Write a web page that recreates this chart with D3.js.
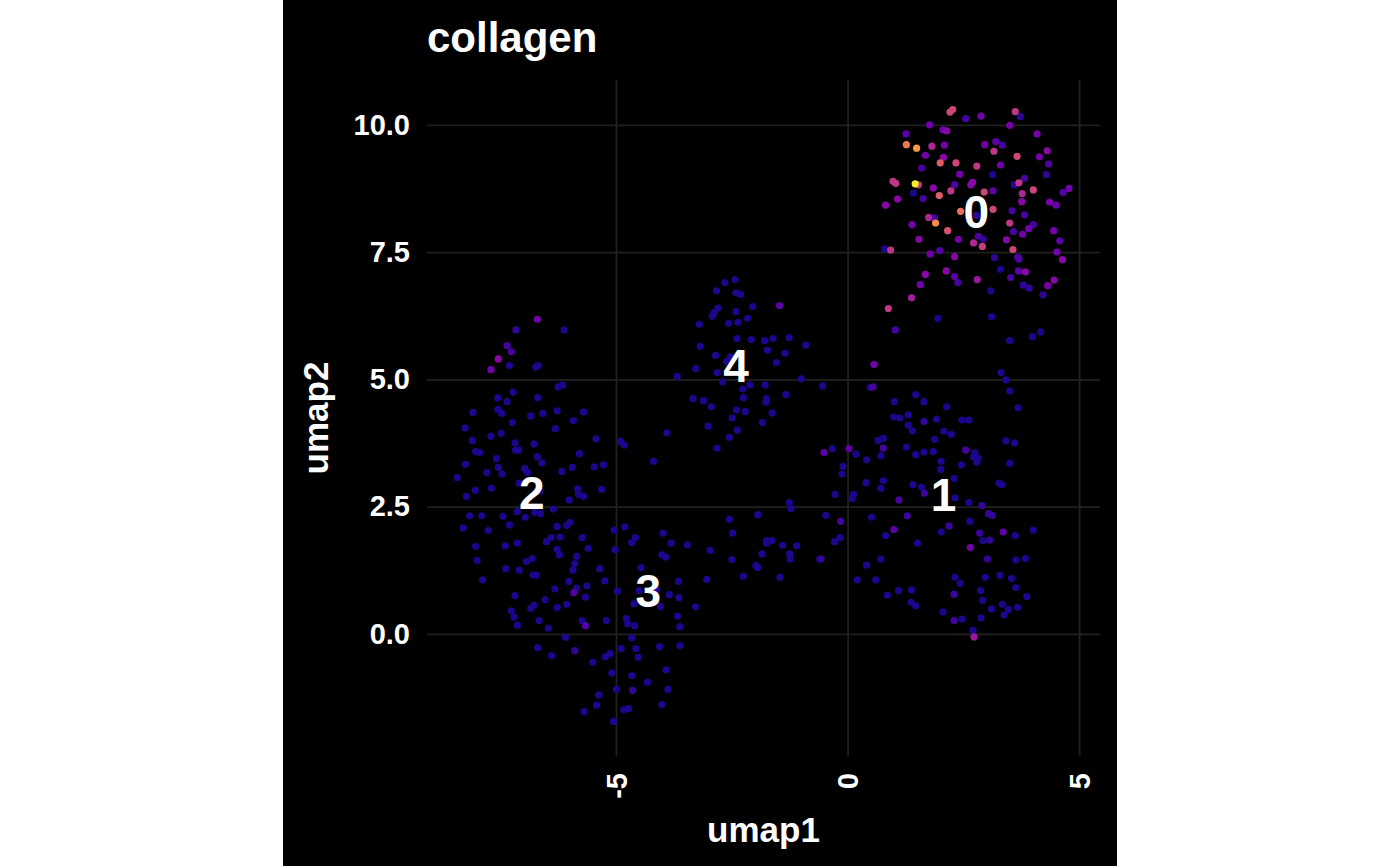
<!DOCTYPE html>
<html>
<head>
<meta charset="utf-8">
<script src="https://cdn.jsdelivr.net/npm/d3@7.9.0/dist/d3.min.js"></script>
<style>
  html, body { margin: 0; padding: 0; background: #fff; }
  svg { display: block; }
  text { font-family: "Liberation Sans", Arial, Helvetica, sans-serif; font-weight: bold; }
</style>
</head>
<body>
<svg id="chart" width="1400" height="866"></svg>
<script>
// umap1, umap2, collagen expression for each cell, grouped by cluster
const cluster0 = [
  [2.21,10.25,.55],[2.27,10.30,.55],[2.55,10.12,.2],[2.88,10.17,.3],[3.62,10.26,.5],[3.73,10.16,.15],
  [1.77,10.00,.3],[3.50,9.99,.3],[1.26,9.82,.25],[2.06,9.90,.3],[2.14,9.88,.35],[4.09,9.82,.3],
  [1.27,9.61,.7],[1.49,9.54,.78],[1.82,9.58,.45],[2.09,9.60,.3],[2.96,9.61,.3],[3.20,9.67,.25],
  [3.34,9.60,.2],[3.16,9.48,.5],[4.31,9.49,.35],[1.68,9.40,.3],[2.07,9.36,.35],[3.66,9.38,.55],
  [4.14,9.37,.3],[2.00,9.25,.62],[2.34,9.25,.55],[2.79,9.19,.5],[1.60,9.15,.2],[3.30,9.21,.3],
  [4.34,9.23,.22],[2.42,9.03,.3],[3.13,9.02,.12],[4.29,9.02,.15],[3.82,8.95,.2],[0.98,8.89,.5],
  [1.04,8.85,.5],[1.46,8.84,.98],[1.53,8.82,.5],[1.85,8.76,.35],[2.31,8.82,.22],[2.66,8.82,.35],
  [2.70,8.87,.35],[3.60,8.82,.15],[3.70,8.86,.5],[2.23,8.70,.5],[2.95,8.68,.55],[3.14,8.70,.25],
  [3.77,8.65,.45],[4.01,8.72,.55],[4.78,8.75,.3],[4.65,8.67,.22],[1.42,8.66,.12],[1.08,8.54,.35],
  [1.63,8.55,.2],[1.98,8.61,.62],[0.82,8.42,.35],[3.76,8.49,.35],[4.36,8.48,.3],[4.50,8.42,.28],
  [2.44,8.30,.68],[3.14,8.34,.55],[3.55,8.31,.2],[2.78,8.22,.15],[1.75,8.18,.45],[1.87,8.17,.2],
  [3.82,8.23,.2],[1.90,8.07,.75],[1.39,8.04,.3],[3.50,8.07,.5],[2.16,7.92,.58],[4.01,8.04,.2],
  [3.91,7.96,.3],[4.45,7.92,.3],[3.58,7.90,.2],[3.78,7.85,.3],[1.54,7.75,.35],[2.39,7.75,.3],
  [2.72,7.68,.45],[2.82,7.81,.2],[2.93,7.75,.15],[2.91,7.61,.52],[3.43,7.74,.35],[4.58,7.72,.25],
  [0.80,7.56,.12],[0.93,7.54,.5],[1.78,7.46,.3],[1.99,7.53,.22],[2.31,7.41,.35],[3.57,7.55,.55],
  [4.52,7.50,.3],[3.17,7.39,.15],[3.67,7.40,.2],[3.70,7.36,.22],[4.64,7.35,.35],[2.13,7.13,.35],
  [1.68,7.06,.35],[3.30,7.16,.12],[3.69,7.13,.25],[3.84,7.11,.35],[2.31,7.02,.25],[2.38,6.90,.2],
  [2.80,6.96,.4],[3.52,7.00,.2],[4.46,6.95,.35],[1.57,6.86,.3],[3.79,6.85,.15],[3.92,6.79,.15],
  [4.32,6.84,.3],[3.09,6.74,.12],[4.22,6.66,.15],[1.38,6.60,.42],[0.88,6.39,.5],[1.95,6.20,.12],
  [3.11,6.23,.12]
];

const cluster1 = [
  [1.03,5.97,.2],[3.50,5.76,.12],[3.99,5.84,.12],[4.17,5.93,.12],[0.57,5.29,.3],[-0.54,4.87,.12],
  [0.49,4.84,.12],[0.55,4.85,.2],[3.31,5.13,.12],[3.42,4.99,.12],[3.50,4.77,.12],[3.68,4.44,.12],
  [1.01,4.56,.12],[1.47,4.70,.12],[1.65,4.56,.12],[2.14,4.46,.12],[1.00,4.26,.12],[1.13,4.24,.12],
  [1.31,4.30,.12],[1.92,4.22,.12],[2.47,4.20,.12],[2.62,4.20,.12],[1.31,4.10,.12],[1.40,3.99,.12],
  [1.65,4.17,.16],[2.08,3.98,.12],[2.24,3.92,.12],[1.88,3.82,.12],[0.66,3.80,.12],[0.77,3.84,.12],
  [-0.33,3.64,.12],[0.03,3.64,.25],[-0.51,3.56,.25],[0.18,3.53,.12],[0.77,3.65,.2],[1.27,3.67,.12],
  [0.72,3.50,.12],[1.47,3.52,.12],[1.65,3.57,.12],[1.85,3.58,.12],[2.55,3.61,.2],[2.75,3.56,.12],
  [2.72,3.48,.12],[2.82,3.45,.12],[2.79,3.37,.12],[3.42,3.79,.12],[3.61,3.75,.12],[0.41,3.42,.12],
  [2.02,3.39,.12],[-0.10,3.29,.12],[-0.12,3.14,.12],[2.01,3.23,.12],[2.46,3.32,.12],[3.50,3.35,.12],
  [0.40,2.97,.12],[0.77,3.01,.12],[0.72,2.86,.12],[1.41,2.93,.12],[1.60,2.88,.12],[1.66,2.76,.18],
  [2.30,3.05,.12],[3.27,2.96,.12],[3.33,2.93,.12],[-0.27,2.74,.12],[0.13,2.74,.12],[0.10,2.66,.12],
  [1.11,2.63,.2],[2.32,2.67,.12],[2.62,2.58,.12],[2.90,2.52,.16],[-0.47,2.33,.12],[-0.15,2.21,.2],
  [0.52,2.29,.12],[1.29,2.32,.18],[3.04,2.36,.16],[3.12,2.33,.16],[1.00,2.05,.25],[2.19,2.12,.18],
  [2.02,2.00,.12],[2.64,2.21,.12],[2.85,1.98,.18],[3.36,2.00,.25],[3.62,1.93,.12],[4.01,2.04,.12],
  [-0.28,1.81,.12],[-0.16,1.89,.12],[0.82,1.93,.12],[1.51,1.78,.12],[2.92,1.83,.12],[3.07,1.84,.16],
  [2.65,1.70,.3],[-0.57,1.47,.16],[0.72,1.47,.12],[3.02,1.47,.16],[3.63,1.45,.12],[3.84,1.48,.12],
  [0.41,1.35,.12],[0.21,1.06,.12],[0.61,1.06,.12],[2.32,1.11,.12],[2.43,0.99,.12],[2.97,1.11,.12],
  [3.29,1.15,.12],[3.54,1.09,.12],[3.63,0.91,.12],[0.86,0.76,.12],[1.10,0.85,.12],[1.38,0.86,.12],
  [1.37,0.62,.12],[1.47,0.55,.12],[2.30,0.78,.18],[2.87,0.85,.12],[2.92,0.66,.12],[3.87,0.73,.12],
  [3.34,0.58,.12],[3.47,0.48,.12],[3.38,0.37,.12],[3.67,0.52,.12],[3.11,0.49,.12],[2.06,0.43,.12],
  [2.30,0.26,.18],[2.47,0.29,.12],[2.88,0.31,.12],[2.71,0.07,.12],[2.73,-0.06,.4]
];

const cluster2 = [
  [-6.70,6.18,.3],[-7.16,5.97,.15],[-6.12,5.97,.12],[-7.35,5.66,.2],[-7.26,5.54,.2],[-7.54,5.40,.35],
  [-7.70,5.19,.3],[-7.30,5.27,.12],[-6.73,5.24,.12],[-6.68,5.27,.12],[-6.25,4.85,.12],[-6.15,4.89,.12],
  [-7.22,4.75,.12],[-7.55,4.64,.12],[-6.69,4.64,.12],[-7.35,4.56,.12],[-8.09,4.35,.12],[-7.55,4.41,.12],
  [-7.47,4.33,.12],[-6.84,4.28,.12],[-6.58,4.33,.12],[-6.27,4.38,.12],[-5.70,4.36,.12],[-7.24,4.15,.12],
  [-5.92,4.19,.12],[-8.26,4.04,.12],[-6.31,4.03,.12],[-7.70,3.88,.12],[-7.48,3.94,.12],[-8.10,3.80,.12],
  [-7.18,3.75,.12],[-6.77,3.73,.12],[-8.03,3.58,.12],[-7.94,3.56,.12],[-7.17,3.61,.12],[-7.10,3.61,.12],
  [-5.43,3.83,.12],[-4.90,3.78,.12],[-4.82,3.71,.12],[-5.79,3.54,.12],[-7.58,3.44,.12],[-6.70,3.48,.12],
  [-6.60,3.36,.12],[-8.25,3.33,.12],[-7.54,3.27,.12],[-6.97,3.25,.12],[-6.91,3.17,.12],[-7.79,3.17,.12],
  [-7.46,3.14,.12],[-6.17,3.19,.12],[-5.94,3.27,.12],[-5.47,3.28,.12],[-5.27,3.32,.12],[-8.43,3.07,.12],
  [-7.69,2.86,.12],[-8.04,2.82,.12],[-7.09,2.96,.12],[-6.64,2.80,.12],[-5.83,2.85,.12],[-5.31,2.84,.12],
  [-8.23,2.70,.12],[-5.81,2.74,.12],[-5.70,2.70,.12]
];

const cluster3 = [
  [-6.01,2.63,.12],[-8.16,2.32,.12],[-7.90,2.32,.12],[-7.44,2.31,.12],[-7.13,2.40,.12],[-6.96,2.29,.12],
  [-6.75,2.39,.12],[-6.63,2.36,.12],[-6.35,2.45,.12],[-8.30,2.08,.12],[-7.76,2.03,.12],[-7.30,2.14,.12],
  [-6.27,2.11,.12],[-6.06,2.13,.12],[-5.99,2.19,.12],[-5.04,2.04,.12],[-4.81,2.10,.12],[-3.98,1.98,.12],
  [-8.03,1.72,.12],[-7.39,1.73,.12],[-7.13,1.78,.12],[-6.50,1.81,.12],[-6.40,1.89,.12],[-6.21,1.90,.12],
  [-5.73,1.89,.12],[-5.60,1.68,.12],[-6.27,1.66,.12],[-6.22,1.55,.12],[-5.02,1.65,.12],[-4.66,1.79,.12],
  [-4.58,1.89,.12],[-3.81,1.78,.12],[-3.46,1.75,.12],[-4.01,1.55,.12],[-3.93,1.51,.12],[-8.00,1.44,.12],
  [-7.38,1.28,.12],[-7.09,1.25,.12],[-6.93,1.42,.12],[-6.81,1.48,.12],[-5.85,1.52,.12],[-5.89,1.38,.12],
  [-5.93,1.25,.12],[-5.35,1.28,.12],[-4.46,1.30,.12],[-7.88,1.06,.12],[-6.79,1.16,.12],[-6.72,1.15,.12],
  [-6.02,1.03,.12],[-5.24,1.04,.12],[-3.65,1.03,.12],[-6.32,0.88,.12],[-5.85,0.90,.12],[-5.63,0.94,.12],
  [-5.91,0.81,.22],[-4.97,0.84,.12],[-4.50,0.85,.12],[-4.12,0.87,.12],[-7.18,0.75,.12],[-6.53,0.67,.12],
  [-5.66,0.72,.12],[-3.85,0.77,.12],[-3.64,0.71,.12],[-7.26,0.45,.12],[-6.84,0.50,.12],[-6.77,0.56,.12],
  [-6.27,0.52,.12],[-6.06,0.58,.12],[-4.61,0.59,.12],[-4.04,0.54,.12],[-3.28,0.53,.12],[-7.20,0.33,.12],
  [-7.13,0.17,.12],[-6.66,0.26,.12],[-6.46,0.11,.12],[-5.73,0.26,.12],[-5.66,0.16,.22],[-5.21,0.26,.12],
  [-4.78,0.30,.12],[-4.75,0.20,.12],[-4.60,0.16,.12],[-3.67,0.35,.12],[-3.62,0.14,.12],[-6.09,-0.07,.12],
  [-4.66,-0.08,.12],[-6.69,-0.27,.12],[-6.39,-0.43,.12],[-5.89,-0.33,.16],[-5.50,-0.56,.12],[-5.23,-0.45,.12],
  [-5.13,-0.39,.12],[-4.89,-0.29,.12],[-4.57,-0.29,.12],[-4.52,-0.46,.12],[-4.06,-0.25,.12],[-3.62,-0.23,.12],
  [-5.09,-0.77,.12],[-4.66,-0.82,.12],[-3.92,-0.71,.12],[-4.32,-0.95,.12],[-4.99,-1.09,.12],[-4.64,-1.11,.16],
  [-3.88,-1.09,.12],[-5.37,-1.20,.12],[-5.42,-1.40,.12],[-5.69,-1.53,.12],[-4.83,-1.49,.12],[-4.73,-1.47,.12],
  [-4.01,-1.39,.12],[-5.05,-1.72,.12],
  [-4.19,3.39,.12],[-1.26,2.58,.12],[-1.22,2.46,.12],[-2.55,2.25,.12],[-1.94,2.34,.12],[-2.48,1.98,.12],
  [-2.97,1.64,.12],[-1.75,1.83,.12],[-1.64,1.83,.12],[-1.75,1.78,.12],[-1.40,1.74,.12],[-1.10,1.73,.12],
  [-1.85,1.57,.12],[-1.25,1.57,.12],[-1.24,1.47,.12],[-0.60,1.47,.12],[-2.50,1.46,.12],[-1.98,1.34,.12],
  [-1.94,1.30,.12],[-2.25,1.13,.12],[-1.46,1.11,.12],[-3.04,1.07,.12]
];

const cluster4 = [
  [-2.43,6.96,.12],[-2.65,6.90,.12],[-2.83,6.74,.12],[-2.41,6.70,.12],[-2.31,6.67,.12],[-2.05,6.43,.12],
  [-1.47,6.45,.25],[-2.80,6.40,.12],[-2.88,6.31,.12],[-2.92,6.24,.12],[-2.41,6.33,.12],[-3.20,6.08,.12],
  [-2.57,6.10,.12],[-2.37,6.12,.12],[-2.16,6.20,.12],[-2.39,5.80,.12],[-2.08,5.78,.12],[-1.79,5.76,.12],
  [-1.61,5.80,.12],[-1.26,5.82,.12],[-0.90,5.67,.12],[-3.18,5.65,.12],[-2.85,5.47,.12],[-1.73,5.57,.12],
  [-1.35,5.51,.12],[-1.54,5.33,.12],[-2.53,5.44,.12],[-2.61,5.35,.12],[-3.28,5.21,.12],[-2.81,5.13,.12],
  [-3.68,5.06,.12],[-2.70,4.95,.12],[-2.26,4.81,.12],[-2.11,4.89,.12],[-1.78,4.89,.12],[-1.00,5.01,.12],
  [-3.34,4.62,.12],[-3.11,4.58,.12],[-2.94,4.46,.12],[-2.25,4.64,.12],[-1.75,4.62,.12],[-1.76,4.55,.12],
  [-1.33,4.70,.12],[-2.40,4.40,.12],[-2.21,4.37,.12],[-2.49,4.24,.12],[-1.63,4.34,.12],[-1.84,4.15,.12],
  [-3.01,4.08,.12],[-2.38,4.00,.12],[-2.55,3.86,.12],[-3.90,3.95,.12],[-2.82,3.65,.12]
];

// cluster label positions (umap1, umap2)
const clusterNames = ['0', '1', '2', '3', '4'];
const clusterUmap1 = [2.78, 2.07, -6.82, -4.30, -2.41];
const clusterUmap2 = [8.30, 2.73, 2.78, 0.85, 5.27];

const xTicks = [-5, 0, 5];
const yTicks = [0, 2.5, 5, 7.5, 10];
const plotTitle = 'collagen';
const xTitle = 'umap1';
const yTitle = 'umap2';

const svg = d3.select('#chart');
const panel = { left: 427, right: 1100, top: 80, bottom: 756 };

// dark background of the plot
svg.append('rect')
  .attr('x', 283).attr('y', 0)
  .attr('width', 834).attr('height', 866)
  .attr('fill', '#000');

let x = d3.scaleLinear().domain([-9.08, 5.45]).range([panel.left, panel.right]);
let y = d3.scaleLinear().domain([-2.40, 10.88]).range([panel.bottom, panel.top]);
let color = d3.scaleSequential(d3.interpolatePlasma).domain([0.1, 1.0]).clamp(true);

// grid
let gx = svg.append('g')
  .attr('transform', `translate(0,${panel.bottom})`)
  .call(d3.axisBottom(x).tickValues(xTicks).tickSize(-(panel.bottom - panel.top)).tickFormat(''));
let gy = svg.append('g')
  .attr('transform', `translate(${panel.left},0)`)
  .call(d3.axisLeft(y).tickValues(yTicks).tickSize(-(panel.right - panel.left)).tickFormat(''));
[gx, gy].forEach((g) => {
  g.select('.domain').remove();
  g.selectAll('line').attr('stroke', '#202020').attr('stroke-width', 1.8);
});

// cells, low expression drawn first
let cells = [...cluster0, ...cluster1, ...cluster2, ...cluster3, ...cluster4]
  .map(([u1, u2, v]) => ({ u1, u2, v }))
  .sort((a, b) => a.v - b.v);

svg.append('g')
  .selectAll('circle')
  .data(cells)
  .join('circle')
  .attr('cx', (d) => x(d.u1))
  .attr('cy', (d) => y(d.u2))
  .attr('r', 3.6)
  .attr('fill', (d) => color(d.v));

// cluster labels
svg.append('g')
  .selectAll('text')
  .data(clusterNames)
  .join('text')
  .attr('x', (d, i) => x(clusterUmap1[i]))
  .attr('y', (d, i) => y(clusterUmap2[i]))
  .attr('dy', '0.36em')
  .attr('text-anchor', 'middle')
  .attr('font-size', 46)
  .attr('fill', '#fff')
  .text((d) => d);

// tick labels
let ax = svg.append('g')
  .attr('transform', `translate(0,${panel.bottom})`)
  .call(d3.axisBottom(x).tickValues(xTicks).tickSize(0).tickFormat((d) => String(d)));
ax.selectAll('text')
  .attr('transform', 'rotate(-90)')
  .attr('text-anchor', 'end')
  .attr('x', -17)
  .attr('y', 0)
  .attr('dy', '0.35em');

let ay = svg.append('g')
  .attr('transform', `translate(${panel.left},0)`)
  .call(d3.axisLeft(y).tickValues(yTicks).tickSize(0).tickPadding(17).tickFormat(d3.format('.1f')));

[ax, ay].forEach((g) => {
  g.select('.domain').remove();
  g.attr('font-family', null).attr('font-size', 29);
  g.selectAll('text').attr('fill', '#fff');
});

// titles
svg.append('text')
  .attr('x', panel.left)
  .attr('y', 52)
  .attr('font-size', 42)
  .attr('fill', '#fff')
  .text(plotTitle);

svg.append('text')
  .attr('x', (panel.left + panel.right) / 2)
  .attr('y', 842)
  .attr('text-anchor', 'middle')
  .attr('font-size', 35)
  .attr('fill', '#fff')
  .text(xTitle);

svg.append('text')
  .attr('transform', `translate(328,${(panel.top + panel.bottom) / 2}) rotate(-90)`)
  .attr('text-anchor', 'middle')
  .attr('font-size', 35)
  .attr('fill', '#fff')
  .text(yTitle);
</script>
</body>
</html>
